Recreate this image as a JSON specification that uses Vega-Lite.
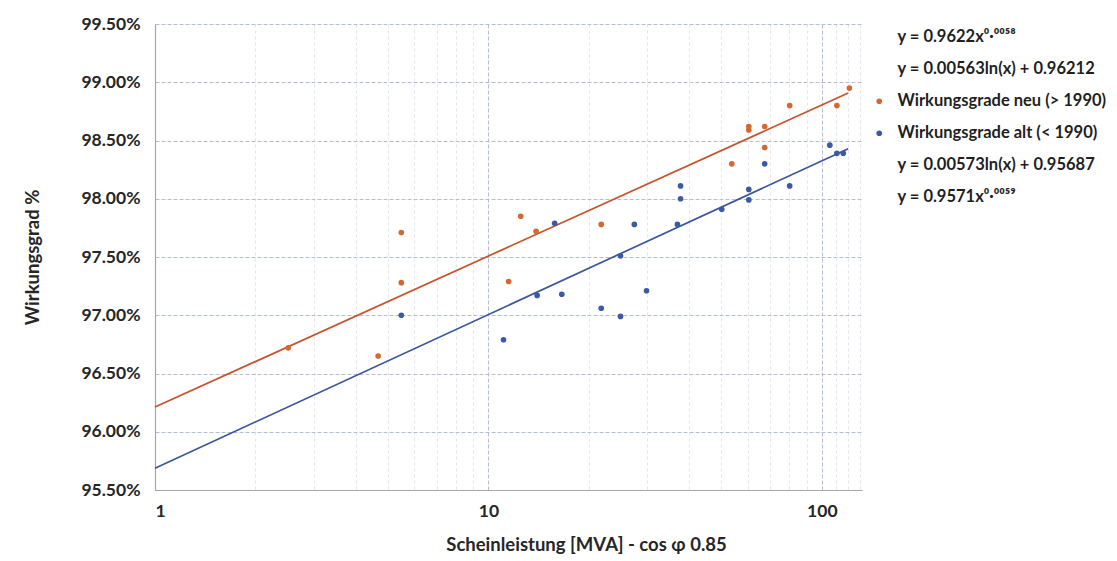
{
  "$schema": "https://vega.github.io/schema/vega-lite/v6.json",
  "width": 707,
  "height": 466,
  "autosize": {"type": "none"},
  "padding": {"left": 155, "top": 24, "right": 255, "bottom": 71},
  "background": "white",
  "config": {
    "view": {"stroke": null},
    "font": "Lato",
    "axis": {
      "labelFont": "Lato",
      "titleFont": "Lato",
      "labelColor": "#262626",
      "titleColor": "#262626",
      "labelFontWeight": "bold",
      "titleFontWeight": "bold"
    }
  },
  "datasets": {
    "points": [
      {"mva": 2.51, "eta": 0.9672, "serie": "Wirkungsgrade neu (> 1990)"},
      {"mva": 4.67, "eta": 0.9665, "serie": "Wirkungsgrade neu (> 1990)"},
      {"mva": 5.48, "eta": 0.9771, "serie": "Wirkungsgrade neu (> 1990)"},
      {"mva": 5.48, "eta": 0.9728, "serie": "Wirkungsgrade neu (> 1990)"},
      {"mva": 11.5, "eta": 0.9729, "serie": "Wirkungsgrade neu (> 1990)"},
      {"mva": 12.5, "eta": 0.9785, "serie": "Wirkungsgrade neu (> 1990)"},
      {"mva": 13.9, "eta": 0.9772, "serie": "Wirkungsgrade neu (> 1990)"},
      {"mva": 21.8, "eta": 0.9778, "serie": "Wirkungsgrade neu (> 1990)"},
      {"mva": 53.7, "eta": 0.9830, "serie": "Wirkungsgrade neu (> 1990)"},
      {"mva": 60.4, "eta": 0.9862, "serie": "Wirkungsgrade neu (> 1990)"},
      {"mva": 60.4, "eta": 0.9859, "serie": "Wirkungsgrade neu (> 1990)"},
      {"mva": 67.4, "eta": 0.9862, "serie": "Wirkungsgrade neu (> 1990)"},
      {"mva": 67.4, "eta": 0.9844, "serie": "Wirkungsgrade neu (> 1990)"},
      {"mva": 80.1, "eta": 0.9880, "serie": "Wirkungsgrade neu (> 1990)"},
      {"mva": 111, "eta": 0.9880, "serie": "Wirkungsgrade neu (> 1990)"},
      {"mva": 121, "eta": 0.9895, "serie": "Wirkungsgrade neu (> 1990)"},
      {"mva": 5.48, "eta": 0.9700, "serie": "Wirkungsgrade alt (< 1990)"},
      {"mva": 11.1, "eta": 0.9679, "serie": "Wirkungsgrade alt (< 1990)"},
      {"mva": 14.0, "eta": 0.9717, "serie": "Wirkungsgrade alt (< 1990)"},
      {"mva": 15.8, "eta": 0.9779, "serie": "Wirkungsgrade alt (< 1990)"},
      {"mva": 16.6, "eta": 0.9718, "serie": "Wirkungsgrade alt (< 1990)"},
      {"mva": 21.8, "eta": 0.9706, "serie": "Wirkungsgrade alt (< 1990)"},
      {"mva": 24.9, "eta": 0.9699, "serie": "Wirkungsgrade alt (< 1990)"},
      {"mva": 24.9, "eta": 0.9751, "serie": "Wirkungsgrade alt (< 1990)"},
      {"mva": 27.4, "eta": 0.9778, "serie": "Wirkungsgrade alt (< 1990)"},
      {"mva": 29.8, "eta": 0.9721, "serie": "Wirkungsgrade alt (< 1990)"},
      {"mva": 36.9, "eta": 0.9778, "serie": "Wirkungsgrade alt (< 1990)"},
      {"mva": 37.7, "eta": 0.9811, "serie": "Wirkungsgrade alt (< 1990)"},
      {"mva": 37.7, "eta": 0.9800, "serie": "Wirkungsgrade alt (< 1990)"},
      {"mva": 50.1, "eta": 0.9791, "serie": "Wirkungsgrade alt (< 1990)"},
      {"mva": 60.4, "eta": 0.9808, "serie": "Wirkungsgrade alt (< 1990)"},
      {"mva": 60.4, "eta": 0.9799, "serie": "Wirkungsgrade alt (< 1990)"},
      {"mva": 67.4, "eta": 0.9830, "serie": "Wirkungsgrade alt (< 1990)"},
      {"mva": 80.1, "eta": 0.9811, "serie": "Wirkungsgrade alt (< 1990)"},
      {"mva": 105.7, "eta": 0.9846, "serie": "Wirkungsgrade alt (< 1990)"},
      {"mva": 111, "eta": 0.9839, "serie": "Wirkungsgrade alt (< 1990)"},
      {"mva": 116, "eta": 0.9839, "serie": "Wirkungsgrade alt (< 1990)"}
    ],
    "trends": [
      {"mva": 1, "eta": 0.96212, "fit": "neu"},
      {"mva": 120, "eta": 0.98907, "fit": "neu"},
      {"mva": 1, "eta": 0.95687, "fit": "alt"},
      {"mva": 120, "eta": 0.98430, "fit": "alt"}
    ]
  },
  "layer": [
    {
      "data": {"name": "trends"},
      "mark": {"type": "line", "strokeWidth": 1.7},
      "encoding": {
        "x": {
          "field": "mva", "type": "quantitative",
          "scale": {"type": "log", "domain": [1, 132], "nice": false},
          "axis": {
            "orient": "bottom",
            "values": [2, 3, 4, 5, 6, 7, 8, 9, 20, 30, 40, 50, 60, 70, 80, 90, 110, 120, 130],
            "labels": false, "ticks": false, "domain": false, "title": null,
            "grid": true, "gridColor": "#e3e6ef", "gridDash": [3, 3], "gridWidth": 1
          }
        },
        "y": {"field": "eta", "type": "quantitative"},
        "stroke": {
          "field": "fit", "type": "nominal",
          "scale": {"domain": ["neu", "alt"], "range": ["#c5532b", "#3b569c"]},
          "legend": null
        },
        "detail": {"field": "fit"}
      }
    },
    {
      "data": {"name": "points"},
      "mark": {"type": "point", "filled": true, "opacity": 1, "size": 32, "shape": "circle"},
      "encoding": {
        "x": {
          "field": "mva", "type": "quantitative",
          "scale": {"type": "log", "domain": [1, 132], "nice": false},
          "axis": {
            "orient": "bottom",
            "values": [1, 10, 100],
            "format": "d",
            "title": "Scheinleistung [MVA] - cos φ 0.85",
            "titleX": 431,
            "labelFontSize": 17.5, "titleFontSize": 18.5,
            "labelPadding": 12, "titlePadding": 16,
            "ticks": false,
            "domain": true, "domainColor": "#a6a6a6", "domainWidth": 1.2,
            "grid": true, "gridColor": "#b5bcd6", "gridDash": [4, 2], "gridWidth": 1
          }
        },
        "y": {
          "field": "eta", "type": "quantitative",
          "scale": {"domain": [0.955, 0.995], "nice": false, "zero": false},
          "axis": {
            "values": [0.955, 0.96, 0.965, 0.97, 0.975, 0.98, 0.985, 0.99, 0.995],
            "format": ".2%",
            "title": "Wirkungsgrad %",
            "labelFontSize": 17.5, "titleFontSize": 18.5,
            "labelPadding": 15, "titlePadding": 38,
            "ticks": false,
            "domain": true, "domainColor": "#a6a6a6", "domainWidth": 1.2,
            "grid": true, "gridColor": "#b5bcd6", "gridDash": [4, 2], "gridWidth": 1
          }
        },
        "color": {
          "field": "serie", "type": "nominal",
          "scale": {
            "domain": [
              "y = 0.9622x⁰·⁰⁰⁵⁸",
              "y = 0.00563ln(x) + 0.96212",
              "Wirkungsgrade neu (> 1990)",
              "Wirkungsgrade alt (< 1990)",
              "y = 0.00573ln(x) + 0.95687",
              "y = 0.9571x⁰·⁰⁰⁵⁹"
            ],
            "range": ["#ffffff", "#ffffff", "#d4682f", "#3c5aa2", "#ffffff", "#ffffff"]
          },
          "legend": {
            "title": null,
            "orient": "right",
            "offset": 4,
            "symbolType": "circle",
            "symbolSize": 32,
            "labelFont": "Lato",
            "labelFontSize": 16.5,
            "labelFontWeight": "bold",
            "labelColor": "#1f1f1f",
            "labelOffset": 10,
            "labelLimit": 300,
            "rowPadding": 15,
            "padding": 5,
            "encode": {
              "labels": {
                "update": {
                  "fontSize": {"signal": "indexof(datum.value, '·') >= 0 ? 13 : 16.5"},
                  "fontWeight": {"signal": "indexof(datum.value, '·') >= 0 ? 'normal' : 'bold'"}
                }
              }
            }
          }
        }
      }
    }
  ],
  "resolve": {"axis": {"x": "independent"}}
}
